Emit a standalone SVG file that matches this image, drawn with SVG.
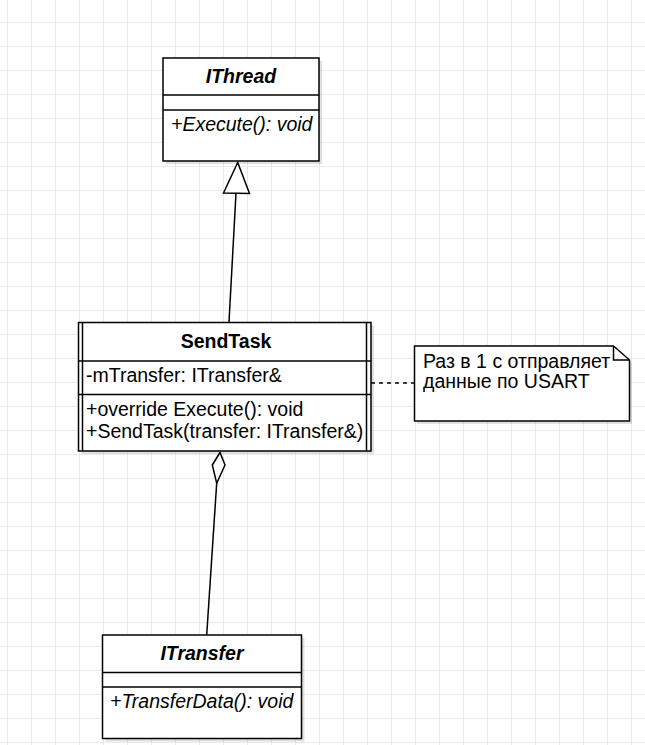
<svg xmlns="http://www.w3.org/2000/svg" width="645" height="745" viewBox="0 0 645 745">
<style>
.box{fill:#fff;stroke:#000;stroke-width:1.5}
.shadow{fill:#000;opacity:0.12}
.sep{stroke:#000;stroke-width:1.5}
text{font-family:"Liberation Sans",Arial,sans-serif;font-size:19.5px;fill:#000}
.title{font-weight:bold;text-anchor:middle}
.it{font-style:italic}
.conn{fill:none;stroke:#000;stroke-width:1.5}
</style>
<defs>
<pattern id="grid" patternUnits="userSpaceOnUse" x="7" y="22" width="24" height="24">
<path d="M0,0 H24 M0,0 V24" stroke="#e4e4e4" stroke-width="1.5" fill="none"/>
</pattern>
</defs>
<rect width="645" height="745" fill="#fff"/>
<rect width="645" height="745" fill="url(#grid)"/>

<g id="connectors">
<line class="conn" x1="229" y1="322" x2="236" y2="193"/>
<polygon class="conn" points="237.7,162.5 223.5,193 249.5,193.5" style="fill:#fff"/>
<line class="conn" x1="216.7" y1="483" x2="206.7" y2="635"/>
<polygon class="conn" points="220,452.5 212.3,465 216.7,483.3 225,465" style="fill:#fff"/>
<line class="conn" x1="371" y1="383" x2="414" y2="383" stroke-dasharray="4 4"/>
</g>

<g id="IThread">
<rect class="shadow" x="166" y="61" width="156" height="103"/>
<rect class="box" x="163" y="58" width="156" height="103"/>
<line class="sep" x1="163" y1="95" x2="319" y2="95"/>
<line class="sep" x1="163" y1="110" x2="319" y2="110"/>
<text class="title it" x="241" y="83">IThread</text>
<text class="it" x="171" y="131">+Execute(): void</text>
</g>

<g id="SendTask">
<rect class="shadow" x="81.5" y="325.5" width="292.5" height="128.5"/>
<rect class="box" x="78.5" y="322.5" width="292.5" height="128.5"/>
<line class="sep" x1="82.5" y1="322.5" x2="82.5" y2="451"/>
<line class="sep" x1="366.5" y1="322.5" x2="366.5" y2="451"/>
<line class="sep" x1="78.5" y1="361" x2="371" y2="361"/>
<line class="sep" x1="78.5" y1="394.5" x2="371" y2="394.5"/>
<text class="title" x="226" y="348">SendTask</text>
<text x="86" y="382">-mTransfer: ITransfer&amp;</text>
<text x="86" y="416">+override Execute(): void</text>
<text x="86" y="438">+SendTask(transfer: ITransfer&amp;)</text>
</g>

<g id="note">
<path class="shadow" d="M417,349 H616 L632,363 V424 H417 Z"/>
<path class="box" d="M414.5,346 H613.5 L629.5,360 V421 H414.5 Z"/>
<path class="conn" d="M613.5,346 V360 H629.5"/>
<text x="423" y="368">Раз в 1 с отправляет</text>
<text x="423" y="388">данные по USART</text>
</g>

<g id="ITransfer">
<rect class="shadow" x="105.5" y="638" width="199" height="103.5"/>
<rect class="box" x="102.5" y="635" width="199" height="103.5"/>
<line class="sep" x1="102.5" y1="672.5" x2="301.5" y2="672.5"/>
<line class="sep" x1="102.5" y1="687" x2="301.5" y2="687"/>
<text class="title it" x="202" y="660">ITransfer</text>
<text class="it" x="110" y="708">+TransferData(): void</text>
</g>
</svg>
